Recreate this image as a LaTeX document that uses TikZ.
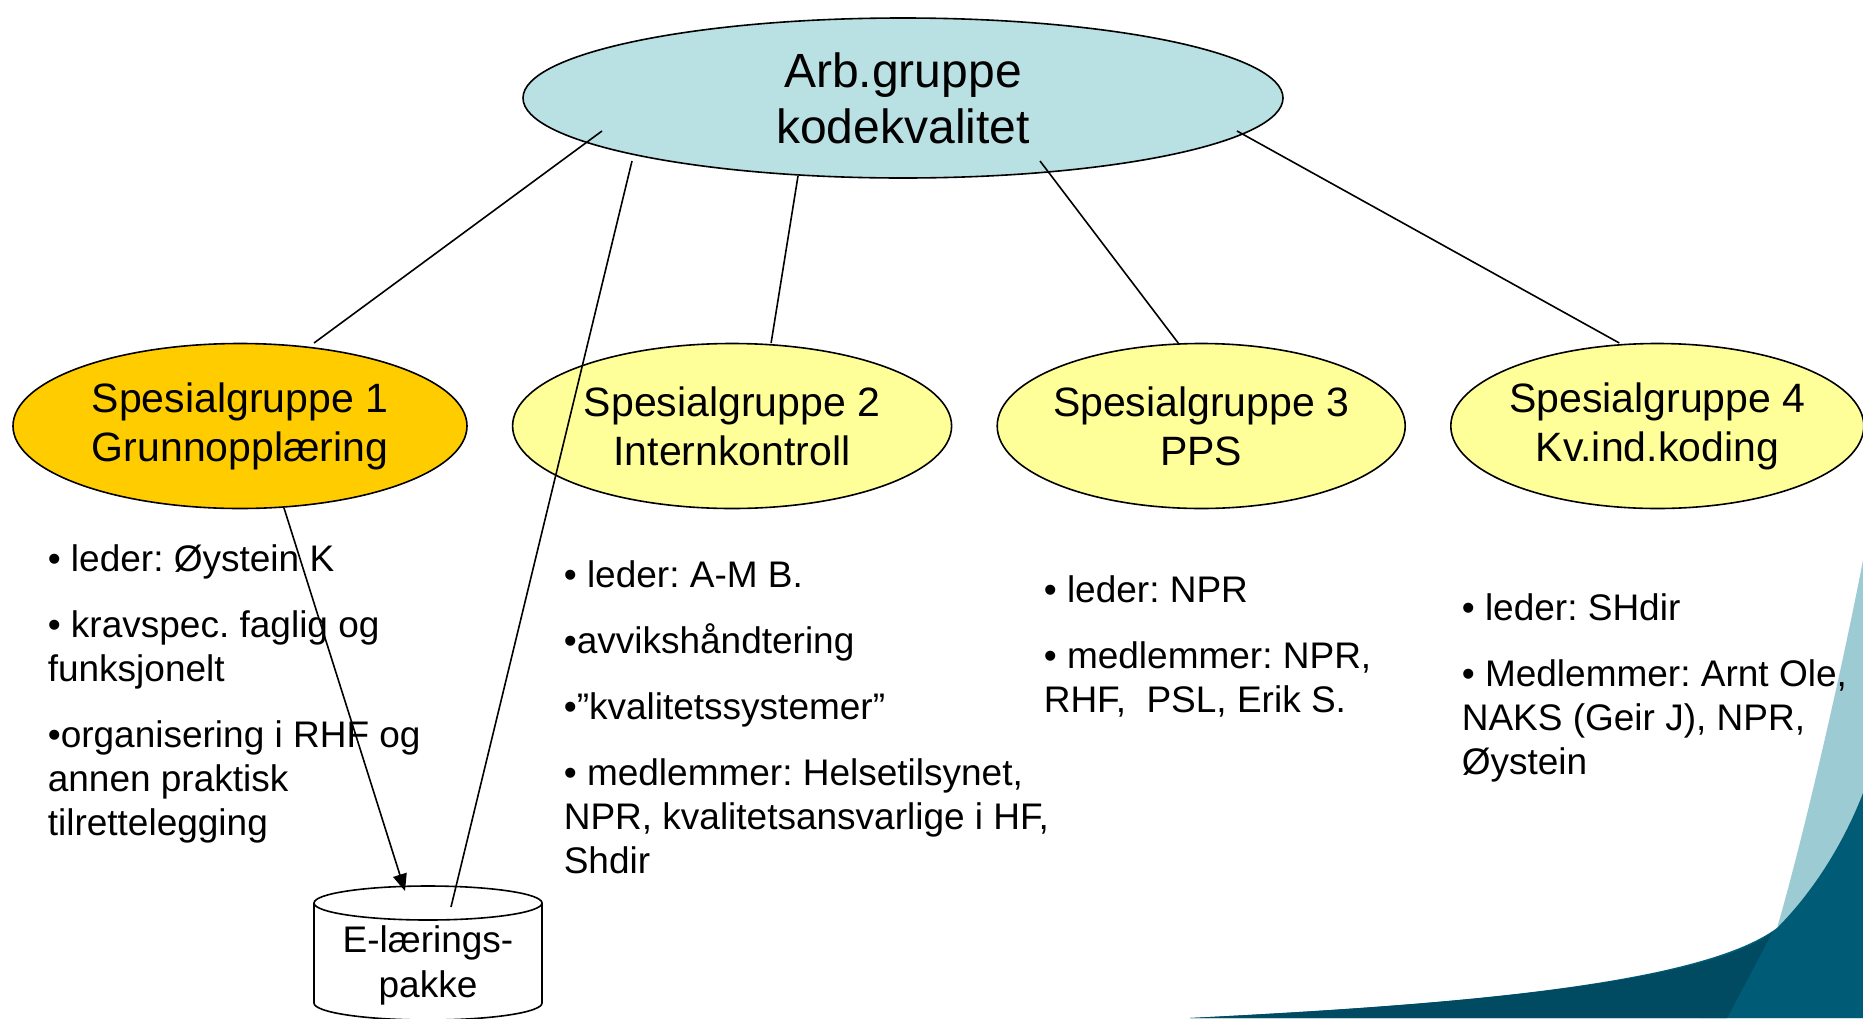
\documentclass[tikz,border=0pt]{standalone}
\usepackage{fontspec}
\setmainfont{Liberation Sans}
\usepackage{xcolor}
\usetikzlibrary{arrows.meta,positioning,shapes.geometric,calc}
\definecolor{arbblue}{RGB}{185,224,227}
\definecolor{sgorange}{RGB}{255,204,0}
\definecolor{sgyellow}{RGB}{255,255,153}
\definecolor{swlight}{RGB}{157,203,212}
\definecolor{swdark}{RGB}{0,91,118}
\definecolor{swdarker}{RGB}{0,74,98}
\frenchspacing

\begin{document}
\begin{tikzpicture}[x=1pt, y=-1pt, node distance=44pt, line width=1.6pt,
    every node/.style={font=\fontsize{37}{44}\selectfont},
    grp/.style={ellipse, draw, fill=sgyellow, minimum height=165pt, inner xsep=-30pt, inner ysep=0pt, align=center, font=\fontsize{41}{49}\selectfont},
    lst/.style={anchor=base west, align=left, inner sep=0pt}]
    \useasboundingbox (0,0) rectangle (1863,1018);
    \fill[white] (0,0) rectangle (1863,1018);
    % corner swoosh
    \fill[swlight] (1863,560) .. controls (1840,680) and (1800,850) .. (1777,928) -- (1700,1018) -- (1863,1018) -- cycle;
    \fill[swdark] (1190,1018) .. controls (1450,1005) and (1700,985) .. (1777,928) .. controls (1815,890) and (1845,840) .. (1863,793) -- (1863,1018) -- cycle;
    \fill[swdarker] (1190,1018) .. controls (1450,1005) and (1700,985) .. (1772,933) -- (1727,1018) -- cycle;

    \node (arb) [ellipse, draw, fill=arbblue, minimum width=760pt, minimum height=160pt, align=center, font=\fontsize{48}{56}\selectfont] at (903,98) {Arb.gruppe\\kodekvalitet};
    \node (sg1) [grp, fill=sgorange, minimum width=454pt] at (240,426) {Spesialgruppe 1\\Grunnopplæring};
    \node (sg2) [grp, minimum width=439pt, right=of sg1] {Spesialgruppe 2\\Internkontroll};
    \node (sg3) [grp, minimum width=408pt, right=of sg2] {Spesialgruppe 3\\PPS};
    \node (sg4) [grp, minimum width=413pt, right=of sg3] {Spesialgruppe 4\\Kv.ind.koding};

    % lists sit on the baseline of their last line
    \node (lst1) [lst] at (47,835) {• leder: Øystein K\\[22pt]• kravspec. faglig og\\funksjonelt\\[22pt]•organisering i RHF og\\annen praktisk\\tilrettelegging};
    \node (lst2) [lst] at (563,873) {• leder: A-M B.\\[22pt]•avvikshåndtering\\[22pt]•”kvalitetssystemer”\\[22pt]• medlemmer: Helsetilsynet,\\NPR, kvalitetsansvarlige i HF,\\Shdir};
    \node (lst3) [lst] at (1043,712) {• leder: NPR\\[22pt]• medlemmer: NPR,\\RHF, \ PSL, Erik S.};
    \node (lst4) [lst] at (1461,774) {• leder: SHdir\\[22pt]• Medlemmer: Arnt Ole,\\NAKS (Geir J), NPR,\\Øystein};

    % e-learning package
    \coordinate (elp) at (428,958);
    \draw[fill=white] ($(elp)+(-114,-55)$) -- ($(elp)+(-114,45)$) arc[start angle=180, end angle=0, x radius=114, y radius=17] -- ($(elp)+(114,-55)$) arc[start angle=0, end angle=-180, x radius=114, y radius=17] -- cycle;
    \draw ($(elp)+(-114,-55)$) arc[start angle=180, end angle=0, x radius=114, y radius=17];
    \node (elptext) [align=center, inner sep=0pt, font=\fontsize{37}{45}\selectfont] at ($(elp)+(0,7)$) {E-lærings-\\pakke};

    \draw ($(sg1)+(74,-83)$) -- ($(arb)+(-301,33)$);
    \draw ($(sg2)+(39,-83)$) -- ($(arb)+(-105,78)$);
    \draw ($(sg3)+(-23,-83)$) -- ($(arb)+(137,63)$);
    \draw ($(sg4)+(-38,-83)$) -- ($(arb)+(334,33)$);
    \draw ($(elp)+(23,-51)$) -- ($(arb)+(-271,63)$);
    \draw[-{Triangle[length=17pt,width=14pt]}] ($(sg1)+(44,82)$) -- ($(elp)+(-23,-67)$);
\end{tikzpicture}
\end{document}
